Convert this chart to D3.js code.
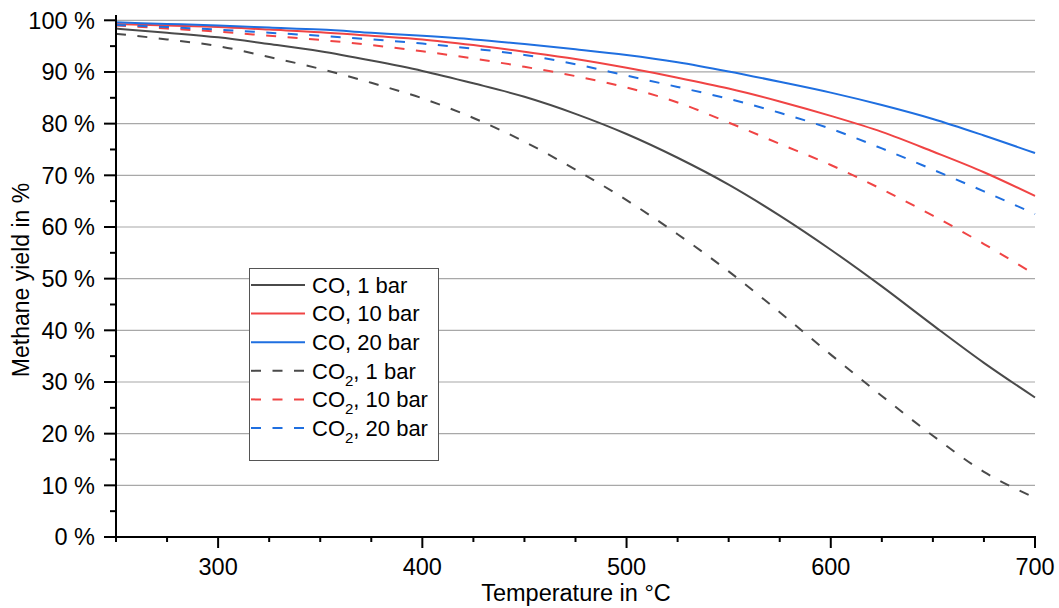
<!DOCTYPE html>
<html><head><meta charset="utf-8">
<script src="https://cdn.jsdelivr.net/npm/d3@7"></script>
<style>body{margin:0;background:#fff}svg{display:block;font-family:"Liberation Sans",Arial,sans-serif}</style>
</head><body>
<svg id="c" width="1059" height="608"></svg>
<script>
const temps = [250,275,300,325,350,375,400,425,450,475,500,525,550,575,600,625,650,675,700];
const co1   = [98.4,97.6,96.7,95.4,94.0,92.2,90.2,87.8,85.2,81.9,78.0,73.4,68.2,62.2,55.6,48.5,41.0,33.7,27.0];
const co10  = [99.3,99.0,98.7,98.2,97.7,97.0,96.3,95.2,93.9,92.5,90.8,88.9,86.8,84.3,81.5,78.4,74.6,70.6,66.0];
const co20  = [99.6,99.3,99.0,98.6,98.2,97.6,97.0,96.3,95.4,94.4,93.3,91.9,90.1,88.1,86.0,83.6,80.9,77.7,74.3];
const co2_1 = [97.4,96.3,95.0,92.9,90.6,87.9,84.9,81.1,76.5,71.1,65.2,58.6,51.4,43.5,35.3,27.3,19.6,12.6,7.6];
const co2_10= [99.0,98.4,97.8,97.0,96.2,95.2,94.0,92.6,91.0,89.2,87.0,84.1,80.2,76.1,72.0,67.3,62.2,56.7,50.8];
const co2_20= [99.1,98.7,98.2,97.6,97.0,96.3,95.5,94.5,93.3,91.5,89.3,87.1,84.8,82.1,79.0,75.2,71.1,66.9,62.5];
const seriesNames = ["CO, 1 bar","CO, 10 bar","CO, 20 bar","CO2, 1 bar","CO2, 10 bar","CO2, 20 bar"];
const xTicks = [300,400,500,600,700];
const yTicks = [0,10,20,30,40,50,60,70,80,90,100];

const colors = {gray:"#4a4a4a", red:"#f04444", blue:"#1f6fe0"};
const series = [
  {name:seriesNames[0], vals:co1,   color:colors.gray, dash:null},
  {name:seriesNames[1], vals:co10,  color:colors.red,  dash:null},
  {name:seriesNames[2], vals:co20,  color:colors.blue, dash:null},
  {name:seriesNames[3], vals:co2_1, color:colors.gray, dash:"10,11.5"},
  {name:seriesNames[4], vals:co2_10,color:colors.red,  dash:"10,11.5"},
  {name:seriesNames[5], vals:co2_20,color:colors.blue, dash:"10,11.5"}
];

const svg = d3.select("#c");
const x = d3.scaleLinear().domain([250,700]).range([116,1035]);
const y = d3.scaleLinear().domain([0,100]).range([537,20.3]);

// grid
svg.append("g").selectAll("line").data(yTicks.filter(d=>d>0)).join("line")
  .attr("x1",116).attr("x2",1035).attr("y1",d=>y(d)).attr("y2",d=>y(d))
  .attr("stroke","#a8a8a8").attr("stroke-width",1.2);

// lines
const line = d3.line().x((d,i)=>x(temps[i])).y(d=>y(d)).curve(d3.curveMonotoneX);
svg.append("g").selectAll("path").data(series).join("path")
  .attr("d",d=>line(d.vals)).attr("fill","none").attr("stroke",d=>d.color)
  .attr("stroke-width",2).attr("stroke-dasharray",d=>d.dash);

// x axis
const xMinor = d3.range(250,701,25).filter(t=>!xTicks.includes(t));
const gx = svg.append("g");
gx.selectAll("line.mj").data(xTicks).join("line").attr("class","mj")
  .attr("x1",d=>x(d)).attr("x2",d=>x(d)).attr("y1",537).attr("y2",548)
  .attr("stroke","#000").attr("stroke-width",2);
gx.selectAll("line.mn").data(xMinor).join("line").attr("class","mn")
  .attr("x1",d=>x(d)).attr("x2",d=>x(d)).attr("y1",537).attr("y2",542)
  .attr("stroke","#000").attr("stroke-width",2);
gx.selectAll("text").data(xTicks).join("text")
  .attr("x",d=>x(d)).attr("y",575).attr("text-anchor","middle")
  .attr("font-size",23.5).attr("fill","#000").text(d=>d);
gx.append("line").attr("x1",115).attr("x2",1036).attr("y1",537).attr("y2",537)
  .attr("stroke","#000").attr("stroke-width",2);

// y axis
const yMinor = d3.range(5,100,10);
const gy = svg.append("g");
gy.selectAll("line.mj").data(yTicks).join("line").attr("class","mj")
  .attr("x1",104).attr("x2",116).attr("y1",d=>y(d)).attr("y2",d=>y(d))
  .attr("stroke","#000").attr("stroke-width",2);
gy.selectAll("line.mn").data(yMinor).join("line").attr("class","mn")
  .attr("x1",110).attr("x2",116).attr("y1",d=>y(d)).attr("y2",d=>y(d))
  .attr("stroke","#000").attr("stroke-width",2);
gy.selectAll("text").data(yTicks).join("text")
  .attr("x",95).attr("y",d=>y(d)+8.3).attr("text-anchor","end")
  .attr("font-size",23.5).attr("fill","#000").text(d=>d+" %");
gy.append("line").attr("x1",116).attr("x2",116).attr("y1",15).attr("y2",538)
  .attr("stroke","#000").attr("stroke-width",2);

// axis titles
svg.append("text").attr("x",576).attr("y",601).attr("text-anchor","middle")
  .attr("font-size",23.5).text("Temperature in °C");
svg.append("text").attr("transform","translate(29,280) rotate(-90)").attr("text-anchor","middle")
  .attr("font-size",23).text("Methane yield in %");

// legend
const lg = svg.append("g");
lg.append("rect").attr("x",249.5).attr("y",268.5).attr("width",189).attr("height",192)
  .attr("fill","#fff").attr("stroke","#555").attr("stroke-width",1);
series.forEach((s,i)=>{
  const yy = 285 + i*28.6;
  lg.append("line").attr("x1",251).attr("x2",305).attr("y1",yy).attr("y2",yy)
    .attr("stroke",s.color).attr("stroke-width",2).attr("stroke-dasharray",s.dash);
  const t = lg.append("text").attr("x",312).attr("y",yy+7.8).attr("font-size",22).attr("fill","#000");
  if (s.name.startsWith("CO2")) {
    t.append("tspan").text("CO");
    t.append("tspan").attr("font-size",15).attr("dy",7).text("2");
    t.append("tspan").attr("dy",-7).text(s.name.slice(3));
  } else t.text(s.name);
});
</script>
</body></html>
